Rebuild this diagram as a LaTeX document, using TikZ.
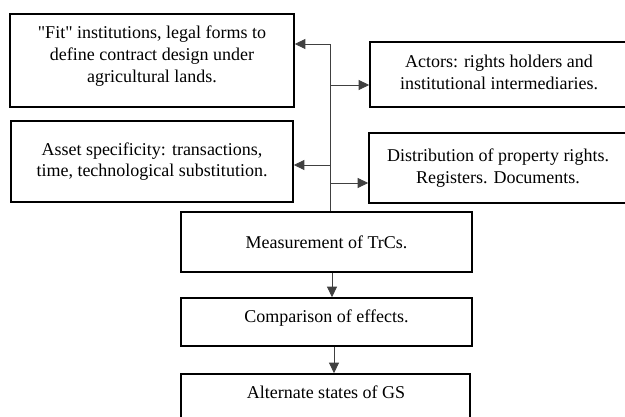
\documentclass[tikz,border=0pt]{standalone}
\usepackage{fontspec}
\setmainfont{Liberation Serif}
\newfontfamily\qfont{Liberation Serif}
\usetikzlibrary{arrows.meta}
\begin{document}
\begin{tikzpicture}[x=1pt,y=-1pt,
  box/.style={draw=black,line width=1.7pt,rectangle,inner sep=0pt,align=center,
    font=\fontsize{18}{21.7}\selectfont},
  lbl/.style={inner sep=0pt,align=center,font=\fontsize{18}{21.7}\selectfont},
  conn/.style={draw=black!75,line width=0.8pt},
  arr/.style={conn,-{Triangle[length=10.5pt,width=10pt]}}]
\useasboundingbox (0,0) rectangle (625,417);
\clip (0,0) rectangle (625,417);
% boxes
\node[box,minimum width=284pt,minimum height=93pt] (fit) at (152,60.5) {};
\node[lbl] (fitl) at (152,56) {{\qfont"}Fit{\qfont"} institutions, legal forms to\\define contract design under\\agricultural lands.};
\node[box,minimum width=282pt,minimum height=81pt] (asset) at (152,161.5) {Asset specificity: transactions,\\time, technological substitution.};
\node[box,minimum width=258pt,minimum height=65pt] (actors) at (499,74.5) {};
\node[lbl] (actorsl) at (499,72.5) {Actors: rights holders and\\institutional intermediaries.};
\node[box,minimum width=258pt,minimum height=70pt] (distr) at (498,168) {Distribution of property rights.\\Registers. Documents.};
\node[box,minimum width=291pt,minimum height=60pt] (meas) at (326.5,242) {Measurement of TrCs.};
\node[box,minimum width=291pt,minimum height=48pt] (comp) at (326.5,322) {};
\node[lbl] (compl) at (326.5,318.5) {Comparison of effects.};
\node[box,minimum width=289pt,minimum height=70pt] (alt) at (325.5,409) {};
\node[lbl] (altl) at (326,392) {Alternate states of GS};
% trunk
\coordinate (ttop) at (330,44);
\coordinate (tact) at (330,85);
\coordinate (tasset) at (330,165);
\coordinate (tdist) at (330,183);
\draw[conn] (meas.north -| ttop) -- (ttop);
\draw[arr] (ttop) -- (ttop -| fit.east);
\draw[arr] (tact) -- (tact -| actors.west);
\draw[arr] (tasset) -- (tasset -| asset.east);
\draw[arr] (tdist) -- (tdist -| distr.west);
\coordinate (m1) at (332,272);
\coordinate (m2) at (334,346);
\draw[arr] (m1 |- meas.south) -- (m1 |- comp.north);
\draw[arr] (m2 |- comp.south) -- (m2 |- alt.north);
\end{tikzpicture}
\end{document}
